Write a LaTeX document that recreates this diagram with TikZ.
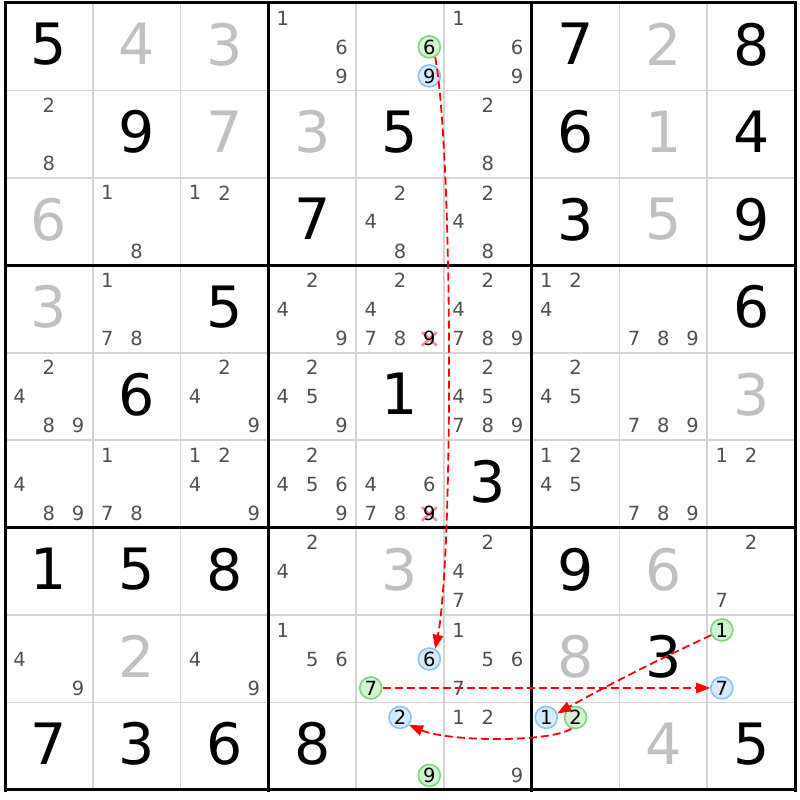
\documentclass[tikz,border=0pt]{standalone}
\usepackage{fontspec}
\setmainfont{DejaVu Sans}
\usetikzlibrary{arrows.meta}
\pgfdeclarelayer{bg}
\pgfsetlayers{bg,main}
\definecolor{solvedgray}{HTML}{C0C0C0}
\definecolor{candgray}{HTML}{505050}
\definecolor{thingrid}{HTML}{D4D4D4}
\definecolor{greenfill}{HTML}{D2F2D2}
\definecolor{greenline}{HTML}{80D480}
\definecolor{bluefill}{HTML}{D6EAFC}
\definecolor{blueline}{HTML}{8CC2F4}
\definecolor{xpink}{HTML}{F28C96}
\definecolor{chainred}{HTML}{FF0000}
\newcommand\placecand[4]{%
  \pgfmathtruncatemacro\cc{mod(#3-1,3)}%
  \pgfmathtruncatemacro\rr{(#3-1)/3}%
  \node[#4] (k#1#2#3) at ({5+#2*87.78+14.6+\cc*29.3}, {3+#1*87.44+14.9+\rr*29}) {#3};}
\begin{document}
\begin{tikzpicture}[x=1pt,y=-1pt,
  thingridline/.style={draw=thingrid, line width=1.6pt},
  thickgridline/.style={draw=black, line width=3pt, line cap=rect},
  given/.style={inner sep=0pt, text depth=0pt, text=black, font=\fontsize{57}{57}\selectfont},
  solved/.style={given, text=solvedgray},
  cand/.style={inner sep=0pt, text depth=0pt, text=candgray, font=\fontsize{19.5}{19.5}\selectfont},
  xcand/.style={cand, text=black},
  gcirc/.style={cand, text=black, circle, minimum size=22pt, draw=greenline, fill=greenfill, line width=1.6pt},
  bcirc/.style={cand, text=black, circle, minimum size=22pt, draw=blueline, fill=bluefill, line width=1.6pt},
  xmark/.style={draw=xpink, line width=2.5pt},
  chain/.style={draw=chainred, line width=1.8pt, dash pattern=on 8pt off 4pt, -{Triangle[length=14pt,width=10.5pt]}}]
\useasboundingbox (0,0) rectangle (800,800);
% grid
\foreach \i in {1,2,4,5,7,8} {
  \draw[thingridline] ({5+\i*87.78},3) -- ({5+\i*87.78},790);
  \draw[thingridline] (5,{3+\i*87.44}) -- (795,{3+\i*87.44});
}
\foreach \i in {0,3,6,9} {
  \draw[thickgridline] ({5+\i*87.78},3) -- ({5+\i*87.78},790);
  \draw[thickgridline] (5,{3+\i*87.44}) -- (795,{3+\i*87.44});
}
% givens
\foreach \r/\c/\d in {0/0/5,0/6/7,0/8/8,1/1/9,1/4/5,1/6/6,1/8/4,2/3/7,2/6/3,2/8/9,
  3/2/5,3/8/6,4/1/6,4/4/1,5/5/3,6/0/1,6/1/5,6/2/8,6/6/9,7/7/3,
  8/0/7,8/1/3,8/2/6,8/3/8,8/8/5}
  \node[given] (g\r\c) at ({5+(\c+0.5)*87.78}, {3+(\r+0.5)*87.44-2.5}) {\d};
\foreach \r/\c/\d in {0/1/4,0/2/3,0/7/2,1/2/7,1/3/3,1/7/1,2/0/6,2/7/5,3/0/3,4/8/3,
  6/4/3,6/7/6,7/1/2,7/6/8,8/7/4}
  \node[solved] (g\r\c) at ({5+(\c+0.5)*87.78}, {3+(\r+0.5)*87.44-2.5}) {\d};
% candidates
\foreach \r/\c/\ds in {0/3/{1,6,9},0/5/{1,6,9},1/0/{2,8},1/5/{2,8},2/1/{1,8},2/2/{1,2},
  2/4/{2,4,8},2/5/{2,4,8},3/1/{1,7,8},3/3/{2,4,9},3/4/{2,4,7,8},3/5/{2,4,7,8,9},
  3/6/{1,2,4},3/7/{7,8,9},4/0/{2,4,8,9},4/2/{2,4,9},4/3/{2,4,5,9},4/5/{2,4,5,7,8,9},
  4/6/{2,4,5},4/7/{7,8,9},5/0/{4,8,9},5/1/{1,7,8},5/2/{1,2,4,9},5/3/{2,4,5,6,9},
  5/4/{4,6,7,8},5/6/{1,2,4,5},5/7/{7,8,9},5/8/{1,2},6/3/{2,4},6/5/{2,4,7},6/8/{2,7},
  7/0/{4,9},7/2/{4,9},7/3/{1,5,6},7/5/{1,5,6,7},8/5/{1,2,9}}
  \foreach \d in \ds {\placecand{\r}{\c}{\d}{cand}};
% highlighted candidates
\placecand{0}{4}{6}{gcirc}
\placecand{0}{4}{9}{bcirc}
\placecand{3}{4}{9}{xcand}
\placecand{5}{4}{9}{xcand}
\placecand{7}{4}{6}{bcirc}
\placecand{7}{4}{7}{gcirc}
\placecand{7}{8}{1}{gcirc}
\placecand{7}{8}{7}{bcirc}
\placecand{8}{4}{2}{bcirc}
\placecand{8}{4}{9}{gcirc}
\placecand{8}{6}{1}{bcirc}
\placecand{8}{6}{2}{gcirc}
% eliminations
\begin{pgfonlayer}{bg}
  \draw[xmark] (k349.center) ++(-7.5,-6) -- ++(15,13.5);
  \draw[xmark] (k349.center) ++(7.5,-6) -- ++(-15,13.5);
  \draw[xmark] (k549.center) ++(-7.5,-6) -- ++(15,13.5);
  \draw[xmark] (k549.center) ++(7.5,-6) -- ++(-15,13.5);
\end{pgfonlayer}
% chain
\draw[chain] (k046.-60) .. controls +(18,100) and +(18,-90) .. (k746.60);
\draw[chain] (k747) -- (k787);
\draw[chain] (k781.206) .. controls +(-50,23) and +(50,-28) .. (k861.20);
\draw[chain] (k862.250) .. controls +(-20,14) and +(40,17) .. (k842.-40);
\end{tikzpicture}
\end{document}
